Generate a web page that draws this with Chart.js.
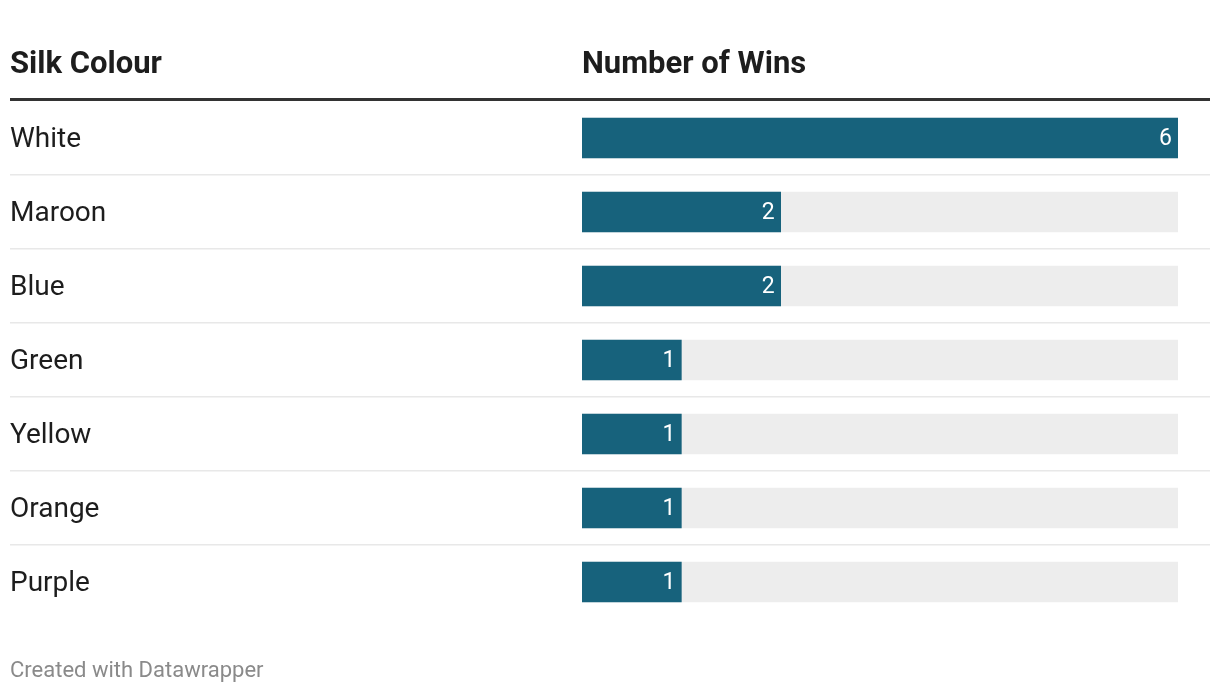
<!DOCTYPE html>
<html>
<head>
<meta charset="utf-8">
<script src="https://cdn.jsdelivr.net/npm/chart.js@4"></script>
<style>
	html, body { margin: 0; padding: 0; background: #ffffff; }
	#wrap { position: relative; width: 1220px; height: 694px; }
</style>
</head>
<body>
<div id="wrap"><canvas id="myChart" width="1220" height="694"></canvas></div>
<script>
// 데이터
const colours = ['White', 'Maroon', 'Blue', 'Green', 'Yellow', 'Orange', 'Purple'];
const wins = [6, 2, 2, 1, 1, 1, 1];
const colHeaders = ['Silk Colour', 'Number of Wins'];
const footer = 'Created with Datawrapper';

const xMax = Math.max(...wins);
const track = colours.map(() => xMax);

// 표 그리기 (헤더, 구분선, 라벨, 값)
const tablePlugin = {
	id: 'tablePlugin',
	beforeDatasetsDraw(chart) {
		const ctx = chart.ctx;
		const y = chart.scales.y;
		const area = chart.chartArea;
		ctx.save();
		// 헤더
		ctx.fillStyle = '#1d1d1d';
		ctx.font = 'bold 31px Roboto';
		ctx.textBaseline = 'middle';
		ctx.textAlign = 'left';
		ctx.fillText(colHeaders[0], 10, 65);
		ctx.fillText(colHeaders[1], area.left, 65);
		ctx.fillStyle = '#333333';
		ctx.fillRect(10, 98, 1200, 3);
		// 구분선
		ctx.fillStyle = '#e8e8e8';
		for (let i = 0; i < colours.length - 1; i++) {
			let yy = (y.getPixelForValue(i) + y.getPixelForValue(i + 1)) / 2;
			ctx.fillRect(10, Math.round(yy) - 1, 1200, 1.5);
		}
		// 행 라벨
		ctx.fillStyle = '#1d1d1d';
		ctx.font = '28px Roboto';
		colours.forEach((c, i) => {
			ctx.fillText(c, 10, y.getPixelForValue(i) + 2);
		});
		// 푸터
		ctx.fillStyle = '#8a8a8a';
		ctx.font = '22px Roboto';
		ctx.fillText(footer, 10, 671);
		ctx.restore();
	},
	afterDatasetsDraw(chart) {
		const ctx = chart.ctx;
		const meta = chart.getDatasetMeta(0);
		ctx.save();
		ctx.fillStyle = '#ffffff';
		ctx.font = '23px Roboto';
		ctx.textAlign = 'right';
		ctx.textBaseline = 'middle';
		meta.data.forEach((bar, i) => {
			ctx.fillText(String(wins[i]), bar.x - 6, bar.y + 1);
		});
		ctx.restore();
	}
};

window.addEventListener("load", function() {
	let data = {
		labels: colours,
		datasets: [
			{
				label: 'Number of Wins',
				data: wins,
				backgroundColor: '#17627c',
				order: 1
			},
			{
				label: 'track',
				data: track,
				backgroundColor: '#ededed',
				order: 2
			}
		]
	};

	let options = {
		indexAxis: 'y',
		responsive: false,
		animation: false,
		maintainAspectRatio: false,
		layout: { padding: { left: 582, right: 42, top: 101, bottom: 75 } },
		datasets: { bar: { grouped: false, barThickness: 40, borderWidth: 0 } },
		plugins: { legend: { display: false }, tooltip: { enabled: false } },
		scales: {
			x: { display: false, min: 0, max: xMax },
			y: { display: false }
		}
	};

	const ctx = document.getElementById('myChart').getContext('2d');
	new Chart(ctx, { type: 'bar', data: data, options: options, plugins: [tablePlugin] });
});
</script>
</body>
</html>
